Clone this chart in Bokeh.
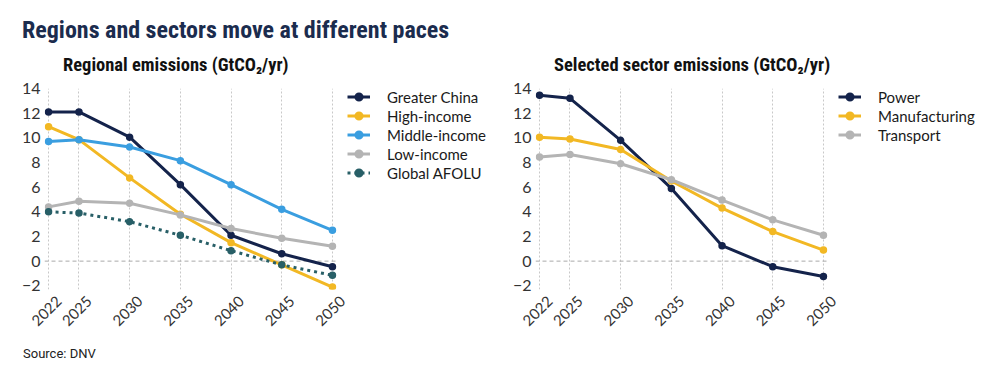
from bokeh.plotting import figure
from bokeh.models import (Legend, LegendItem, FixedTicker, Range1d, Div,
                          LinearAxis)
from bokeh.layouts import row, column
from bokeh.embed import file_html
from bokeh.resources import INLINE

years = [2022, 2025, 2030, 2035, 2040, 2045, 2050]
y_ticks = [-2, 0, 2, 4, 6, 8, 10, 12, 14]

greater_china = [12.1, 12.1, 10.05, 6.2, 2.1, 0.6, -0.45]
high_income = [10.9, 9.85, 6.75, 3.8, 1.5, -0.3, -2.1]
middle_income = [9.7, 9.85, 9.25, 8.15, 6.2, 4.2, 2.5]
low_income = [4.4, 4.85, 4.7, 3.75, 2.65, 1.85, 1.2]
global_afolu = [4.0, 3.9, 3.2, 2.1, 0.85, -0.3, -1.15]

power = [13.45, 13.2, 9.8, 5.9, 1.25, -0.45, -1.25]
manufacturing = [10.05, 9.9, 9.05, 6.5, 4.3, 2.4, 0.9]
transport = [8.45, 8.65, 7.9, 6.6, 4.95, 3.35, 2.1]

NAVY = "#14234b"
YELLOW = "#f2b824"
BLUE = "#3a9ee0"
GRAY = "#b4b4b4"
TEAL = "#285f67"

COND = "'Roboto Condensed', 'Liberation Sans Narrow', 'Arial Narrow', Roboto, sans-serif"
BODY = "Lato"

PAD = 0.4                 # x padding (years) on each side of the data
X0, X1 = years[0] - PAD, years[-1] + PAD
DATA_W = 292              # px covered by the data part of the frame
LABEL_SHIFT = 1.0         # centre rotated year labels under their ticks


def base(width, left, right):
    frame_w = width - left - right
    x_end = X0 + (X1 - X0) * frame_w / DATA_W
    p = figure(width=width, height=269, x_range=Range1d(X0, x_end),
               y_range=Range1d(-2.3, 14.0), output_backend="svg",
               toolbar_location=None, min_border_left=left,
               min_border_right=right, min_border_top=10,
               min_border_bottom=58)
    p.outline_line_color = None
    p.xaxis[0].visible = False
    p.extra_x_ranges = {"lab": Range1d(X0 - LABEL_SHIFT, x_end - LABEL_SHIFT)}
    xax = LinearAxis(x_range_name="lab", ticker=FixedTicker(ticks=years))
    p.add_layout(xax, "below")
    yax = p.yaxis[0]
    yax.ticker = FixedTicker(ticks=y_ticks)
    yax.major_label_overrides = {-2: "\u22122"}
    for ax in (xax, yax):
        ax.axis_line_color = None
        ax.major_tick_line_color = None
        ax.minor_tick_line_color = None
        ax.major_tick_out = 0
        ax.major_tick_in = 0
        ax.major_label_text_font = BODY
        ax.major_label_text_font_size = "16px"
        ax.major_label_text_color = "#333333"
        ax.major_label_standoff = 4
    xax.major_label_orientation = 0.785398
    xax.major_label_text_font_size = "15px"
    xax.major_label_standoff = 9
    p.xgrid.ticker = FixedTicker(ticks=years)
    p.xgrid.grid_line_color = "#c8c8c8"
    p.xgrid.grid_line_dash = "2 2"
    p.ygrid.visible = False
    # zero reference line across the data area
    p.segment(x0=X0, x1=X1, y0=0, y1=0, line_color="#aaaaaa",
              line_dash="4 3", line_width=1)
    return p


def series(p, ys, color, dash="solid"):
    lr = p.line(years, ys, line_color=color, line_width=3, line_dash=dash)
    sr = p.scatter(years, ys, size=6, fill_color=color, line_color=color,
                   line_width=1.5)
    return [lr, sr]


def legend(p, items, x, y):
    lg = Legend(items=items, location=(x, y), margin=0, padding=0,
                border_line_color=None, background_fill_alpha=0,
                glyph_width=23, glyph_height=19, label_height=19,
                label_standoff=17, spacing=0,
                label_text_font=BODY, label_text_font_size="15px",
                label_text_color="#1a1a1a")
    p.add_layout(lg)


def text_div(text, width, height, size, pad_left, color="#111111", bold=True,
             font=COND):
    return Div(text=text, width=width, height=height, margin=(0, 0, 0, 0),
               styles={"font-family": font, "font-size": size,
                       "font-weight": "bold" if bold else "normal",
                       "color": color, "line-height": f"{height}px",
                       "padding-left": f"{pad_left}px", "white-space": "nowrap"})


title = text_div("Regions and sectors move at different paces", 984, 44,
                 "24px", 14, color="#1b2c4e")
sub1 = text_div("Regional emissions (GtCO\u2082/yr)", 500, 26, "18.5px", 55)
sub2 = text_div("Selected sector emissions (GtCO\u2082/yr)", 484, 26, "18.5px", 46)
source = text_div("Source: DNV", 984, 14, "13px", 15, color="#222222",
                  bold=False, font="Roboto")

# Left panel
p1 = base(500, 36, 8)
items1 = [
    LegendItem(label="Greater China", renderers=series(p1, greater_china, NAVY)),
    LegendItem(label="High-income", renderers=series(p1, high_income, YELLOW)),
    LegendItem(label="Middle-income", renderers=series(p1, middle_income, BLUE)),
    LegendItem(label="Low-income", renderers=series(p1, low_income, GRAY)),
    LegendItem(label="Global AFOLU", renderers=series(p1, global_afolu, TEAL, "3 4")),
]
legend(p1, items1, 303, 107)

# Right panel
p2 = base(484, 27, 8)
items2 = [
    LegendItem(label="Power", renderers=series(p2, power, NAVY)),
    LegendItem(label="Manufacturing", renderers=series(p2, manufacturing, YELLOW)),
    LegendItem(label="Transport", renderers=series(p2, transport, GRAY)),
]
legend(p2, items2, 303, 145)

layout = column(title, row(sub1, sub2), row(p1, p2), source,
                margin=(8, 0, 0, 8))
open("out.html", "w").write(file_html(layout, INLINE))
